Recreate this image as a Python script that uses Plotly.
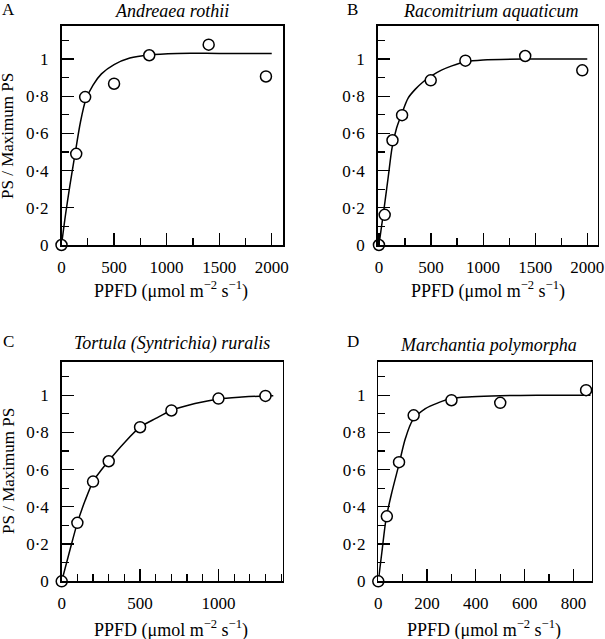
import plotly.graph_objects as go

W, H = 605, 639
FONT = "'Liberation Serif', 'Times New Roman', 'DejaVu Serif', serif"

# ---------------- data ----------------
a_x = [0, 140, 225, 500, 835, 1400, 1945]
a_y = [0.0, 0.49, 0.795, 0.867, 1.02, 1.077, 0.906]
a_fit_x = [0, 40, 80, 130, 180, 230, 300, 380, 500, 650, 830, 1100, 1500, 2000]
a_fit_y = [0.0, 0.17, 0.32, 0.494, 0.66, 0.78, 0.86, 0.92, 0.97, 1.005, 1.022, 1.03, 1.03, 1.03]

b_x = [0, 55, 130, 222, 497, 830, 1404, 1952]
b_y = [0.0, 0.162, 0.563, 0.698, 0.885, 0.991, 1.016, 0.939]
b_fit_x = [0, 25, 50, 90, 125, 170, 215, 280, 350, 420, 500, 600, 700, 830, 1000, 1400, 2000]
b_fit_y = [0.0, 0.10, 0.20, 0.37, 0.52, 0.63, 0.70, 0.79, 0.838, 0.875, 0.908, 0.94, 0.963, 0.985, 0.995, 1.0, 1.0]

c_x = [0, 100, 200, 300, 500, 700, 1000, 1300]
c_y = [0.0, 0.314, 0.536, 0.645, 0.828, 0.918, 0.982, 0.996]
c_fit_x = [0, 50, 100, 150, 200, 250, 300, 400, 500, 600, 700, 850, 1000, 1150, 1300, 1350]
c_fit_y = [0.0, 0.16, 0.314, 0.435, 0.536, 0.595, 0.648, 0.745, 0.828, 0.875, 0.918, 0.955, 0.98, 0.99, 0.996, 0.997]

d_x = [0, 35, 85, 145, 300, 500, 852]
d_y = [0.0, 0.349, 0.64, 0.892, 0.973, 0.959, 1.027]
d_fit_x = [0, 15, 32, 55, 84, 111, 141, 193, 247, 298, 384, 500, 650, 870]
d_fit_y = [0.0, 0.16, 0.337, 0.475, 0.624, 0.767, 0.866, 0.928, 0.96, 0.982, 0.991, 0.997, 1.0, 1.0]

y_tickvals = [0, 0.2, 0.4, 0.6, 0.8, 1.0]
y_ticktext = ["0", "0·2", "0·4", "0·6", "0·8", "1"]

panels = [
    dict(letter="A", title="Andreaea rothii", x=a_x, y=a_y, fx=a_fit_x, fy=a_fit_y,
         xr=[0, 2110], xt=[0, 500, 1000, 1500, 2000], xminor=250,
         box=(61.5, 283.3, 25.5, 245.0), letter_pos=(8, 9.5), title_pos=(172, 10.5),
         xtitle_pos=(171, 290), ytitle=True, ytitle_pos=(8, 136)),
    dict(letter="B", title="Racomitrium aquaticum", x=b_x, y=b_y, fx=b_fit_x, fy=b_fit_y,
         xr=[-12, 2100], xt=[0, 500, 1000, 1500, 2000], xminor=250,
         box=(377.7, 597.7, 25.5, 245.0), letter_pos=(352, 9.5), title_pos=(490, 10.5),
         xtitle_pos=(488, 290), ytitle=False, ytitle_pos=None),
    dict(letter="C", title="Tortula (Syntrichia) ruralis", x=c_x, y=c_y, fx=c_fit_x, fy=c_fit_y,
         xr=[0, 1410], xt=[0, 500, 1000], xminor=100,
         box=(61.7, 282.7, 361.7, 581.3), letter_pos=(8, 342), title_pos=(172, 343.5),
         xtitle_pos=(171, 629), ytitle=True, ytitle_pos=(8, 471)),
    dict(letter="D", title="Marchantia polymorpha", x=d_x, y=d_y, fx=d_fit_x, fy=d_fit_y,
         xr=[0, 875], xt=[0, 200, 400, 600, 800], xminor=100,
         box=(378.3, 591.7, 361.7, 581.3), letter_pos=(353, 342), title_pos=(488, 345),
         xtitle_pos=(484, 629), ytitle=False, ytitle_pos=None),
]

fig = go.Figure()
annotations = []
FS = 17
FS_T = 18

def px2paper(px, py):
    return px / W, 1 - py / H

for i, p in enumerate(panels, start=1):
    xa = "x" if i == 1 else f"x{i}"
    ya = "y" if i == 1 else f"y{i}"
    fig.add_trace(go.Scatter(x=p["fx"], y=p["fy"], mode="lines", line=dict(color="black", width=1.5, shape="spline", smoothing=0.8),
                             xaxis=xa, yaxis=ya, showlegend=False, hoverinfo="skip", cliponaxis=False))
    fig.add_trace(go.Scatter(x=p["x"], y=p["y"], mode="markers",
                             marker=dict(symbol="circle", size=11, color="white", line=dict(color="black", width=1.5)),
                             xaxis=xa, yaxis=ya, showlegend=False, cliponaxis=False))
    l, r, t, b = p["box"]
    xd = [l / W, r / W]
    yd = [1 - b / H, 1 - t / H]
    axis_common = dict(showline=True, linecolor="black", linewidth=1.5, mirror=True, showgrid=False, zeroline=False,
                       ticks="inside", ticklen=12, tickwidth=1.2, tickcolor="black", automargin=False,
                       tickfont=dict(family=FONT, size=FS, color="black"))
    fig.layout[f"xaxis{'' if i == 1 else i}"] = dict(
        domain=xd, range=p["xr"], anchor=ya, tickmode="array", tickvals=p["xt"],
        ticktext=[str(v) for v in p["xt"]], ticklabelstandoff=6,
        minor=dict(tickmode="linear", tick0=0, dtick=p["xminor"], ticks="inside", ticklen=7, tickwidth=1.2, tickcolor="black"),
        **axis_common)
    fig.layout[f"yaxis{'' if i == 1 else i}"] = dict(
        domain=yd, range=[0, 1.18], anchor=xa, tickmode="array", tickvals=y_tickvals, ticktext=y_ticktext,
        ticklabelstandoff=8,
        minor=dict(tickmode="linear", tick0=0, dtick=0.1, ticks="inside", ticklen=7, tickwidth=1.2, tickcolor="black"),
        **axis_common)
    lx, ly = px2paper(*p["letter_pos"])
    annotations.append(dict(text=p["letter"], x=lx, y=ly, xref="paper", yref="paper", showarrow=False,
                            xanchor="center", yanchor="middle", font=dict(family=FONT, size=17, color="black")))
    tx, ty = px2paper(*p["title_pos"])
    annotations.append(dict(text=f"<i>{p['title']}</i>", x=tx, y=ty, xref="paper", yref="paper", showarrow=False,
                            xanchor="center", yanchor="middle", font=dict(family=FONT, size=FS_T, color="black")))
    ax_, ay_ = px2paper(*p["xtitle_pos"])
    annotations.append(dict(text="PPFD (μmol m<sup>−2</sup> s<sup>−1</sup>)", x=ax_, y=ay_, xref="paper", yref="paper",
                            showarrow=False, xanchor="center", yanchor="middle",
                            font=dict(family=FONT, size=FS_T, color="black")))
    if p["ytitle"]:
        yx, yy = px2paper(*p["ytitle_pos"])
        annotations.append(dict(text="PS / Maximum PS", x=yx, y=yy, xref="paper", yref="paper", showarrow=False,
                                textangle=-90, xanchor="center", yanchor="middle",
                                font=dict(family=FONT, size=FS, color="black")))

fig.update_layout(template="none", width=W, height=H, margin=dict(l=0, r=0, t=0, b=0, autoexpand=False),
                  plot_bgcolor="white", paper_bgcolor="white", annotations=annotations,
                  font=dict(family=FONT, size=FS, color="black"))

fig.write_html("out.html", config={"displayModeBar": False, "staticPlot": True},
               post_script="document.body.style.margin='0';document.body.style.padding='0';document.body.style.overflow='hidden';")
